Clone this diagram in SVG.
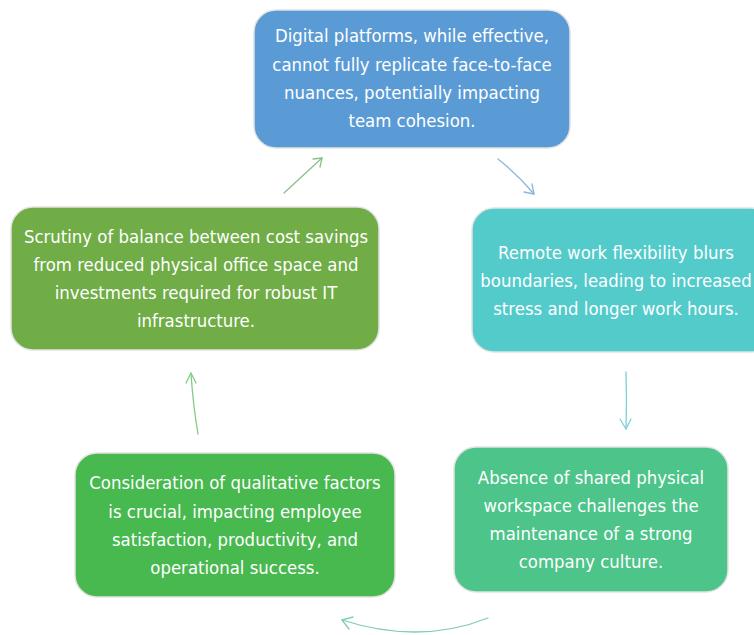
<svg xmlns="http://www.w3.org/2000/svg" width="754" height="635" viewBox="0 0 754 635">
  <style>
    .box { stroke: #e2e2e2; stroke-width: 1.5; }
    .lbl { font-family: "DejaVu Sans Condensed", "DejaVu Sans", sans-serif; font-stretch: condensed; font-size: 18.4px; fill: #ffffff; text-anchor: middle; }
    .link { fill: none; stroke-width: 1.3; stroke-linecap: round; stroke-linejoin: round; }
  </style>
  <rect width="754" height="635" fill="#ffffff"/>

  <g id="node-digital">
    <rect class="box" x="254" y="10" width="316" height="138" rx="22" fill="#5b9bd5"/>
    <text class="lbl" x="412" y="42">Digital platforms, while effective,</text>
    <text class="lbl" x="412" y="71">cannot fully replicate face-to-face</text>
    <text class="lbl" x="412" y="99">nuances, potentially impacting</text>
    <text class="lbl" x="412" y="127">team cohesion.</text>
  </g>

  <g id="node-remote">
    <rect class="box" x="472" y="208" width="300" height="144" rx="22" fill="#53cbcb"/>
    <text class="lbl" x="616" y="259">Remote work flexibility blurs</text>
    <text class="lbl" x="616" y="287">boundaries, leading to increased</text>
    <text class="lbl" x="616" y="315">stress and longer work hours.</text>
  </g>

  <g id="node-culture">
    <rect class="box" x="454" y="447" width="274" height="145" rx="22" fill="#4dc48a"/>
    <text class="lbl" x="591" y="484">Absence of shared physical</text>
    <text class="lbl" x="591" y="512">workspace challenges the</text>
    <text class="lbl" x="591" y="540">maintenance of a strong</text>
    <text class="lbl" x="591" y="568">company culture.</text>
  </g>

  <g id="node-qualitative">
    <rect class="box" x="75" y="453" width="320" height="144" rx="22" fill="#47b94f"/>
    <text class="lbl" x="235" y="489">Consideration of qualitative factors</text>
    <text class="lbl" x="235" y="518">is crucial, impacting employee</text>
    <text class="lbl" x="235" y="546">satisfaction, productivity, and</text>
    <text class="lbl" x="235" y="574">operational success.</text>
  </g>

  <g id="node-cost">
    <rect class="box" x="11" y="207" width="368" height="143" rx="22" fill="#70ad47"/>
    <text class="lbl" x="196" y="243">Scrutiny of balance between cost savings</text>
    <text class="lbl" x="196" y="271">from reduced physical office space and</text>
    <text class="lbl" x="196" y="299">investments required for robust IT</text>
    <text class="lbl" x="196" y="327">infrastructure.</text>
  </g>

  <g id="connectors">
    <!-- cost -> digital -->
    <path class="link" stroke="#8cc08a" d="M284,193 L322,158"/>
    <path class="link" stroke="#8cc08a" d="M313,159 L322,158 L320,167"/>
    <!-- digital -> remote -->
    <path class="link" stroke="#8ab6e0" d="M498,159 Q518,175 534,194"/>
    <path class="link" stroke="#8ab6e0" d="M524,192 L534,194 L532,184"/>
    <!-- remote -> culture -->
    <path class="link" stroke="#7fd0d3" d="M626,372 Q627,400 626,429"/>
    <path class="link" stroke="#7fd0d3" d="M620,419 L626,429 L631,419"/>
    <!-- culture -> qualitative -->
    <path class="link" stroke="#7fd0ac" d="M488,618 Q420,645 342,620"/>
    <path class="link" stroke="#7fd0ac" d="M349,629 L342,620 L353,617"/>
    <!-- qualitative -> cost -->
    <path class="link" stroke="#82cc82" d="M198,434 Q193,405 191,373"/>
    <path class="link" stroke="#82cc82" d="M186,383 L191,373 L196,383"/>
  </g>
</svg>
